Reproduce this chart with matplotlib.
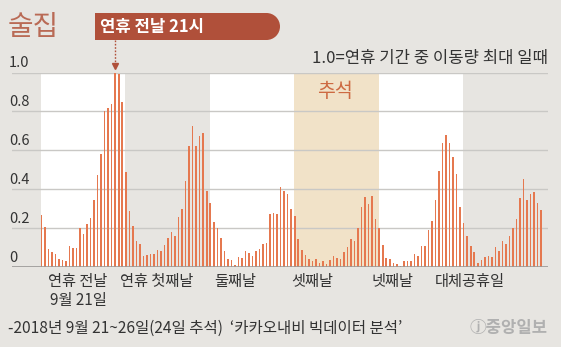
import numpy as np
import matplotlib
matplotlib.use("Agg")
import matplotlib.pyplot as plt
from matplotlib.patches import Rectangle, Circle

plt.rcParams['font.family'] = ['Noto Sans CJK KR', 'DejaVu Sans']

# hourly movement index for pubs, 1.0 = busiest hour of the holiday
day1 = [0.265, 0.205, 0.094, 0.077, 0.068, 0.039, 0.038, 0.031, 0.11, 0.10, 0.10, 0.20,
        0.17, 0.22, 0.25, 0.345, 0.475, 0.58, 0.80, 0.82, 0.84, 1.0, 0.99, 0.846]
day2 = [0.487, 0.29, 0.21, 0.133, 0.12, 0.055, 0.06, 0.068, 0.068, 0.085, 0.08, 0.115,
        0.15, 0.18, 0.16, 0.256, 0.30, 0.44, 0.62, 0.726, 0.62, 0.675, 0.69, 0.39]
day3 = [0.33, 0.23, 0.20, 0.15, 0.08, 0.04, 0.036, 0.012, 0.05, 0.046, 0.08, 0.07,
        0.056, 0.08, 0.09, 0.12, 0.125, 0.275, 0.28, 0.27, 0.41, 0.39, 0.376, 0.30]
day4 = [0.26, 0.145, 0.085, 0.063, 0.043, 0.029, 0.039, 0.022, 0.031, 0.017, 0.038, 0.055,
        0.048, 0.04, 0.077, 0.103, 0.145, 0.133, 0.20, 0.31, 0.36, 0.325, 0.365, 0.245]
day5 = [0.20, 0.115, 0.046, 0.039, 0.022, 0.017, 0.005, 0.029, 0.029, 0.029, 0.068, 0.056,
        0.108, 0.11, 0.19, 0.236, 0.345, 0.495, 0.64, 0.678, 0.636, 0.567, 0.48, 0.31]
day6 = [0.226, 0.157, 0.108, 0.075, 0.022, 0.038, 0.051, 0.055, 0.051, 0.103, 0.08, 0.133,
        0.116, 0.157, 0.20, 0.248, 0.354, 0.45, 0.342, 0.376, 0.388, 0.328, 0.294]
values = day1 + day2 + day3 + day4 + day5 + day6

day_labels = ['연휴 전날\n9월 21일', '연휴 첫째날', '둘째날', '셋째날', '넷째날', '대체공휴일']
label_pos = [10.4, 32.9, 55.0, 76.9, 99.9, 121.8]
day_colors = ['white', None, 'white', '#f1e2c8', 'white', None]
y_ticks = [0, 0.2, 0.4, 0.6, 0.8, 1.0]
peak_hour = 21

BG = '#e7e5e1'
BAR = '#e5784f'
BROWN = '#b0503a'
TXT = '#333333'

W, H = 561, 347
fig = plt.figure(figsize=(W / 100, H / 100), dpi=100, facecolor=BG)

# axes in pixel terms: x 12..548, y 72.5..267 from top
ax = fig.add_axes([12 / W, (H - 267) / H, 536 / W, (267 - 72.5) / H])
ax.set_facecolor(BG)
step = 3.52
x0 = 41.3
ax.set_xlim((12 - x0) / step, (548 - x0) / step)
ax.set_ylim(0, 1.0)
for s in ax.spines.values():
    s.set_visible(False)
ax.set_xticks([])
ax.set_yticks([])

# day bands
for d, c in enumerate(day_colors):
    if c is None:
        continue
    ax.add_patch(Rectangle((24 * d - 0.2, 0), 24, 1.0, facecolor=c, edgecolor='none', zorder=0))

for v in y_ticks[1:]:
    ax.axhline(v, color='#c9c8c5', lw=1.0, zorder=1)
ax.axhline(0, color='#9a9896', lw=1.2, zorder=3)

x = np.arange(len(values))
ax.bar(x, values, width=0.44, color=BAR, zorder=2)

# y labels sit above their gridlines
for v in y_ticks:
    lab = '0' if v == 0 else f'{v:.1f}'
    ax.text((9 - x0) / step, v + 0.012, lab, ha='left', va='bottom', fontsize=10.5,
            color=TXT)

for lab, p in zip(day_labels, label_pos):
    ax.text(p, -0.03, lab, ha='center', va='top', fontsize=11, color=TXT,
            linespacing=1.2)

ax.text(24 * 3 + 11.5, 0.9, '추석', ha='center', va='center', fontsize=14,
        color='#cd6a42')

# peak marker
ax.plot([peak_hour, peak_hour], [1.165, 1.045], color=BROWN, lw=1.0, ls=(0, (1.2, 1.2)),
        clip_on=False, zorder=4)
ax.plot([peak_hour], [1.035], marker='v', color=BROWN, markersize=5, clip_on=False, zorder=4)

# label box with rounded right end, drawn in inch coords
tr = fig.dpi_scale_trans
fig.add_artist(Rectangle((95 / 100, (H - 40) / 100), 172 / 100, 27 / 100, transform=tr,
                         facecolor=BROWN, edgecolor='none'))
fig.add_artist(Circle((266.5 / 100, (H - 26.5) / 100), 13.5 / 100, transform=tr,
                      facecolor=BROWN, edgecolor='none'))
fig.text(100 / W, (H - 27) / H, '연휴 전날 21시', ha='left', va='center', fontsize=12,
         fontweight='bold', color='white')

fig.text(8 / W, (H - 27) / H, '술집', ha='left', va='center', fontsize=20, color='#b96a55')
fig.text(548 / W, (H - 58) / H, '1.0=연휴 기간 중 이동량 최대 일때', ha='right', va='center',
         fontsize=12, color=TXT)

fig.text(8 / W, (H - 328) / H, '-2018년 9월 21~26일(24일 추석)  ‘카카오내비 빅데이터 분석’',
         ha='left', va='center', fontsize=11.2, color=TXT)
fig.text(548 / W, (H - 328) / H, 'ⓙ중앙일보', ha='right', va='center', fontsize=12,
         color='#b0b0b0', fontweight='bold')

fig.savefig('out.png', dpi=100, facecolor=BG)
